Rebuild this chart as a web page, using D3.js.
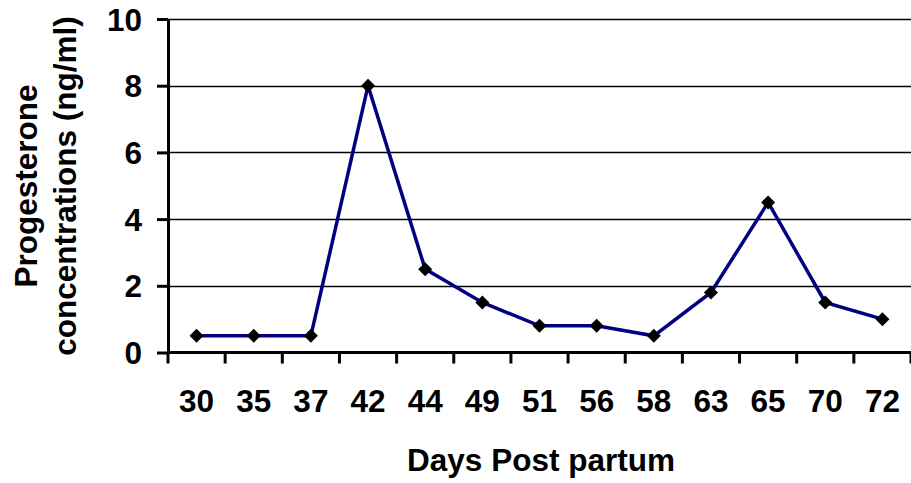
<!DOCTYPE html>
<html><head><meta charset="utf-8">
<script src="https://cdn.jsdelivr.net/npm/d3@7"></script>
<style>body{margin:0;background:#fff}svg{display:block}text{font-family:"Liberation Sans",Arial,sans-serif;font-weight:bold}</style>
</head><body>
<svg id="c" width="911" height="483"></svg>
<script>
const days = ["30","35","37","42","44","49","51","56","58","63","65","70","72"];
const progesterone = [0.5,0.5,0.5,8,2.5,1.5,0.8,0.8,0.5,1.8,4.5,1.5,1.0];
const yTicks = [0,2,4,6,8,10];

const svg = d3.select("#c");
const L=168, R=911, T=19, B=352.5;
const FS = 31.5;
const x = d3.scaleBand().domain(days).range([L,R]);
const y = d3.scaleLinear().domain([0,10]).range([B,T]);

// gridlines
svg.append("g").selectAll("line").data(yTicks.filter(d=>d>0)).join("line")
  .attr("x1",L).attr("x2",R).attr("y1",d=>Math.round(y(d))+0.5).attr("y2",d=>Math.round(y(d))+0.5)
  .attr("stroke","#000").attr("stroke-width",1.3);

// y axis
const ya = svg.append("g").attr("transform",`translate(${L},0)`)
  .call(d3.axisLeft(y).tickValues(yTicks).tickSize(11).tickPadding(15).tickSizeOuter(0));
ya.select(".domain").attr("stroke-width",3);
ya.selectAll(".tick line").attr("stroke-width",3);
ya.selectAll("text").attr("font-size",FS).attr("fill","#000").attr("dy","0.35em");

// x axis
const xa = svg.append("g").attr("transform",`translate(0,${B})`)
  .call(d3.axisBottom(x).tickSize(0).tickPadding(37).tickSizeOuter(0));
xa.select(".domain").attr("stroke-width",3).attr("d",`M${L},0H${R}`);
xa.selectAll("text").attr("font-size",FS).attr("fill","#000");
// boundary ticks
const bounds = days.map(d=>x(d)).concat([R]);
xa.append("g").selectAll("line").data(bounds).join("line")
  .attr("x1",d=>d).attr("x2",d=>d).attr("y1",0).attr("y2",11)
  .attr("stroke","#000").attr("stroke-width",3);

// line
const line = d3.line().x((d,i)=>x(days[i])+x.bandwidth()/2).y(d=>y(d));
svg.append("path").datum(progesterone).attr("d",line)
  .attr("fill","none").attr("stroke","#000080").attr("stroke-width",3.5);

// markers
svg.append("g").selectAll("path").data(progesterone).join("path")
  .attr("transform",(d,i)=>`translate(${x(days[i])+x.bandwidth()/2},${y(d)})`)
  .attr("d","M0,-7L7,0L0,7L-7,0Z").attr("fill","#000");

// axis titles
svg.append("text").attr("x",541).attr("y",471).attr("text-anchor","middle")
  .attr("font-size",FS).text("Days Post partum");
const yt = svg.append("text").attr("transform","translate(0,186) rotate(-90)").attr("text-anchor","middle").attr("font-size",FS);
yt.append("tspan").attr("x",0).attr("y",37).text("Progesterone");
yt.append("tspan").attr("x",0).attr("y",76).text("concentrations (ng/ml)");
</script>
</body></html>
